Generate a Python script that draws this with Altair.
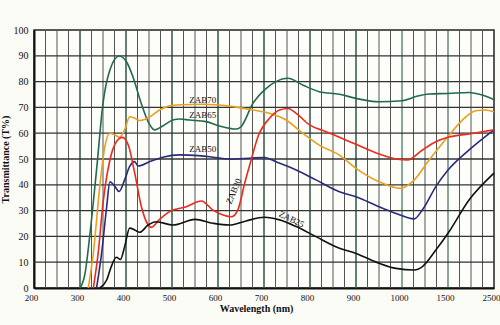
import altair as alt
import pandas as pd

# ---- data ----
zab70_nm = [300, 311, 321, 336, 350, 365, 385, 401, 415, 433, 448, 462, 480, 502, 517, 538, 574, 603, 640, 650, 676, 705, 726, 752, 784, 820, 864, 900, 950, 1000, 1151, 1295, 1500, 1958, 2246, 2500]
zab70_t = [0, 5.7, 19.9, 45.8, 71.6, 84.5, 89.9, 87.7, 81.9, 71.6, 64.5, 61.3, 62.8, 65.1, 65.5, 65.1, 64.5, 62.8, 61.6, 62.5, 71.6, 77.4, 80.0, 81.3, 78.7, 76.1, 75.1, 73.5, 72.2, 72.6, 74.2, 75.2, 75.4, 75.8, 74.8, 73.0]

zab65_nm = [318, 329, 343, 354, 365, 376, 386, 397, 408, 419, 430, 452, 473, 495, 517, 567, 625, 676, 712, 748, 784, 820, 864, 900, 950, 997, 1114, 1295, 1500, 1813, 2103, 2320, 2500]
zab65_t = [0, 13.5, 39.3, 54.8, 60, 59.3, 58.4, 61.3, 66.4, 65.8, 64.9, 66.4, 69, 70.6, 71, 71.2, 70.5, 69, 67.7, 65.1, 60, 55.4, 51.5, 46.4, 41.2, 38.6, 41.2, 49.6, 58.7, 65.1, 68.7, 69, 68.3]

zab50_nm = [336, 347, 358, 365, 376, 385, 397, 408, 419, 426, 452, 480, 517, 538, 582, 625, 668, 701, 726, 770, 813, 864, 900, 950, 987, 1132, 1222, 1368, 1500, 1958, 2500]
zab50_t = [0, 13.5, 31.5, 41.2, 39.3, 37.4, 41.9, 47.1, 49, 47.3, 49, 50.7, 51.6, 51.5, 50.9, 50, 50.3, 50.6, 48.9, 45.7, 41.9, 37.3, 35.4, 31.5, 28.9, 26.8, 30.3, 39.3, 45.7, 53.5, 61.3]

zab30_nm = [329, 339.5, 350, 365, 379, 392, 405, 419, 433.5, 446, 455, 473, 495, 531, 564, 589, 611, 629, 643, 658, 672, 687, 712, 734, 752, 770, 799, 835, 864, 900, 950, 987, 1060, 1222, 1368, 1500, 1958, 2500]
zab30_t = [0, 13.5, 32.8, 49.6, 56.7, 58.4, 55.4, 44.5, 31.5, 25.1, 23.5, 26.6, 29.6, 31.5, 33.7, 30.2, 28.3, 27.6, 30.2, 40.6, 49.6, 58.7, 65.8, 69, 69.6, 67.7, 63.2, 60.6, 58.4, 55.7, 51.9, 50, 49.6, 53.5, 56.7, 58.4, 59.7, 61.3]

zab25_nm = [343, 358, 368, 379, 388, 397, 408, 419, 430, 448, 466, 502, 550, 589, 625, 661, 701, 734, 770, 813, 864, 900, 950, 987, 1132, 1222, 1368, 1500, 1958, 2500]
zab25_t = [0, 3.1, 8.3, 11.9, 11.1, 16, 23.2, 22.5, 21.6, 24.4, 25.7, 24.4, 26.6, 25.1, 24.4, 26, 27.4, 26.4, 23.8, 19.9, 15.4, 13.4, 9.6, 7.6, 7.0, 8.3, 14.7, 21.2, 34.1, 44.5]

series_names = ["ZAB70", "ZAB65", "ZAB50", "ZAB30", "ZAB25"]
series_colors = ["#1f6b4c", "#e8a020", "#2a2a7c", "#ec2a1e", "#111111"]

label_text = ["ZAB70", "ZAB65", "ZAB50", "ZAB30", "ZAB25"]
label_nm = [567, 567, 567, 634, 760]
label_t = [72.9, 67.0, 53.9, 37.5, 26.7]
label_angle = [0, 0, 0, 293, 26]

x_tick_labels = [200, 300, 400, 500, 600, 700, 800, 900, 1000, 1500, 2500]
y_ticks = [0, 10, 20, 30, 40, 50, 60, 70, 80, 90, 100]

# minor vertical grid: 25 nm below 1000, quarter steps of the wider segments after
minor_x = list(range(225, 1000, 25)) + [1125, 1250, 1375] + [1750, 2000, 2250]
major_x = [300, 400, 500, 600, 700, 800, 900, 1000, 1500]
grid_y = [10, 20, 30, 40, 50, 60, 70, 80, 90]

# ---- build tables ----
rows = []
for name, xs, ts in zip(series_names,
                        [zab70_nm, zab65_nm, zab50_nm, zab30_nm, zab25_nm],
                        [zab70_t, zab65_t, zab50_t, zab30_t, zab25_t]):
    for i, (a, b) in enumerate(zip(xs, ts)):
        rows.append({"series": name, "nm": a, "t": b, "order": i})
curves = pd.DataFrame(rows)
labels = pd.DataFrame({"text": label_text, "nm": label_nm, "t": label_t, "angle": label_angle})

W, H = 460, 258
xscale = alt.Scale(domain=[200, 1000, 1500, 2500], range=[0, 368, 414, 460], nice=False, zero=False)
yscale = alt.Scale(domain=[0, 100], nice=False, zero=True)
FONT = "Liberation Serif"

xaxis = alt.Axis(values=x_tick_labels, title="Wavelength  (nm)", grid=False, ticks=False,
                 format="d", labelOverlap=False,
                 labelFont=FONT, labelFontSize=9, labelColor="#111", labelPadding=5,
                 labelOffset=-3,
                 titleFont=FONT, titleFontSize=10, titleFontWeight="bold", titleColor="#111",
                 titlePadding=1, titleX=222, titleAlign="center", titleAnchor="start",
                 domainColor="#111", domainWidth=2, labelFlush=False, labelBound=False)
yaxis = alt.Axis(values=y_ticks, title="Transmittance  (T%)", grid=False, ticks=False,
                 format="d", labelOverlap=False, tickCount=11,
                 labelFont=FONT, labelFontSize=10, labelColor="#111", labelPadding=6,
                 titleFont=FONT, titleFontSize=10, titleFontWeight="bold", titleColor="#111",
                 titlePadding=3, domainColor="#111", domainWidth=2, labelFlush=False)

X = lambda: alt.X("nm:Q", scale=xscale, axis=xaxis)
Y = lambda: alt.Y("t:Q", scale=yscale, axis=yaxis)

minor = alt.Chart(pd.DataFrame({"nm": minor_x})).mark_rule(color="#555555", strokeWidth=1).encode(x=X())
major = alt.Chart(pd.DataFrame({"nm": major_x})).mark_rule(color="#27624a", strokeWidth=1.1).encode(x=X())
hgrid = alt.Chart(pd.DataFrame({"t": grid_y})).mark_rule(color="#333333", strokeWidth=1.3).encode(y=Y())

lines = alt.Chart(curves).mark_line(interpolate="monotone", strokeWidth=1.6).encode(
    x=X(),
    y=Y(),
    color=alt.Color("series:N", scale=alt.Scale(domain=series_names, range=series_colors), legend=None),
    order="order:Q",
    strokeWidth=alt.condition(alt.datum.series == "ZAB25", alt.value(2.2), alt.value(1.6)),
)

texts = alt.Chart(labels).mark_text(font=FONT, fontSize=9, color="#111").encode(
    x=X(),
    y=Y(),
    text="text:N",
    angle=alt.Angle("angle:Q", scale=None),
)

chart = alt.layer(minor, major, hgrid, lines, texts).properties(
    width=W, height=H,
    autosize=alt.AutoSizeParams(type="none"),
    padding={"left": 34, "top": 30, "right": 6, "bottom": 37},
    background="#fbfbf5",
).configure_view(stroke="#222222", strokeWidth=1.5, fill="#fdfdfa")

chart.save("out.html", embed_options={"renderer": "svg", "actions": False})
